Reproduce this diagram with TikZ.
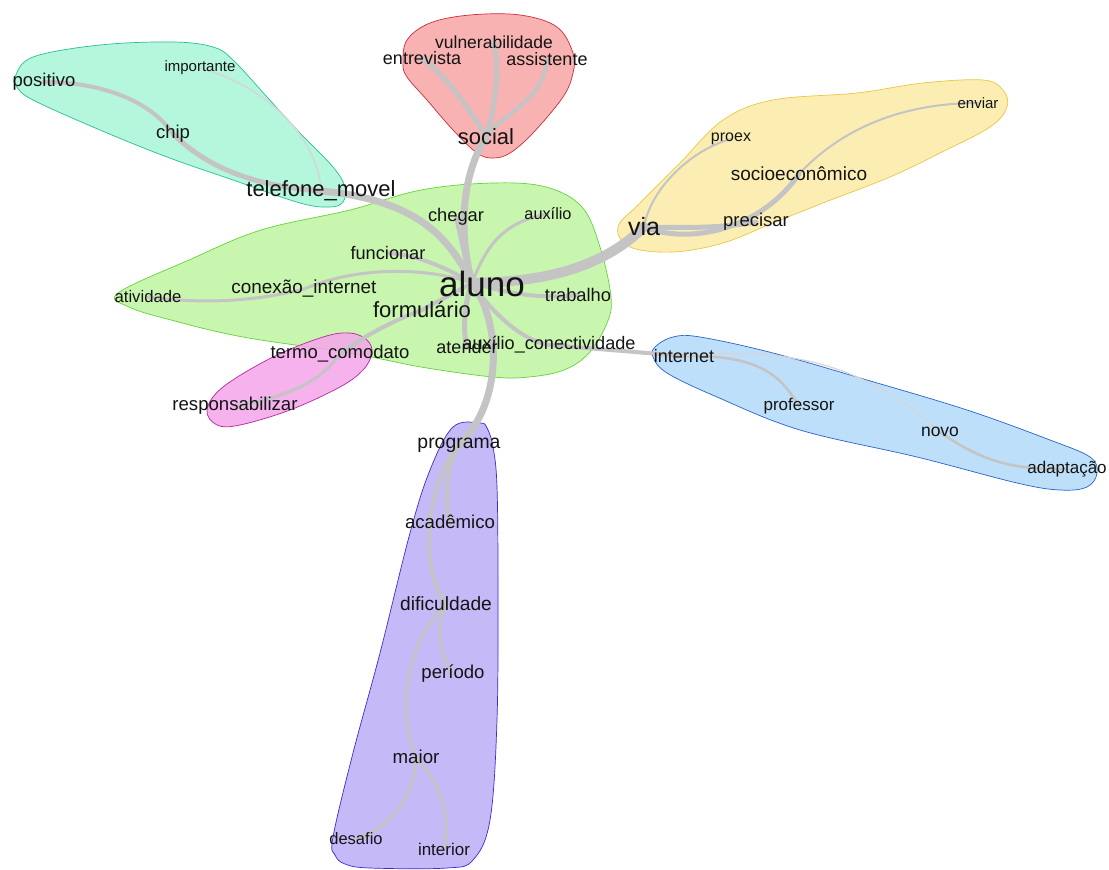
\documentclass[tikz,border=0pt]{standalone}
\usepackage{fontspec}
\setmainfont{Liberation Sans}
\definecolor{linkgray}{RGB}{196,196,196}
\definecolor{linklight}{RGB}{214,214,214}
\definecolor{tealfill}{RGB}{168,246,216}
\definecolor{tealline}{RGB}{40,190,150}
\definecolor{redfill}{RGB}{248,165,165}
\definecolor{redline}{RGB}{205,45,60}
\definecolor{yellowfill}{RGB}{252,236,165}
\definecolor{yellowline}{RGB}{230,200,70}
\definecolor{greenfill}{RGB}{192,245,160}
\definecolor{greenline}{RGB}{100,210,60}
\definecolor{pinkfill}{RGB}{245,165,235}
\definecolor{pinkline}{RGB}{180,40,160}
\definecolor{bluefill}{RGB}{178,218,248}
\definecolor{blueline}{RGB}{40,100,200}
\definecolor{purplefill}{RGB}{188,175,246}
\definecolor{purpleline}{RGB}{70,40,200}
\definecolor{labeltext}{RGB}{20,20,20}
\pgfdeclarelayer{hulls}
\pgfdeclarelayer{links}
\pgfsetlayers{hulls,links,main}
\begin{document}
\begin{tikzpicture}[x=1pt,y=-1pt,
  lbl/.style={inner sep=0pt, text=labeltext, font=\fontsize{#1}{#1}\selectfont},
  lnk/.style={draw=linkgray, line width=#1, line cap=round},
  thin lnk/.style={draw=linklight, line width=#1, line cap=round},
  hull/.style={fill=#1fill, draw=#1line, fill opacity=0.85, line width=0.7pt}]
\begin{pgfonlayer}{hulls}
\fill[white] (0,0) rectangle (1109,870);
% community hulls
\draw[hull=teal] plot[smooth cycle, tension=0.6] coordinates {
  (15,77) (33,57) (100,45) (173,42) (213,47) (233,60) (267,97) (300,133)
  (333,167) (345,187) (343,202) (330,207) (300,203) (233,180) (167,157)
  (100,130) (33,100) (17,87)};
\draw[hull=red] plot[smooth cycle, tension=0.6] coordinates {
  (403,63) (407,40) (430,23) (470,15) (520,15) (557,27) (573,53) (573,73)
  (563,97) (533,133) (510,153) (493,158) (477,153) (453,130) (427,100) (407,77)};
\draw[hull=yellow] plot[smooth cycle, tension=0.6] coordinates {
  (618,227) (640,203) (680,163) (723,120) (773,100) (857,93) (923,83)
  (983,80) (1003,90) (1007,107) (990,127) (940,153) (890,177) (823,203)
  (773,223) (723,243) (673,252) (630,247)};
\draw[hull=green] plot[smooth cycle, tension=0.6] coordinates {
  (118,293) (189,260) (261,230) (350,210) (421,190) (493,183) (546,187)
  (582,207) (600,247) (611,297) (607,323) (589,353) (564,370) (529,377)
  (493,377) (421,367) (350,353) (243,337) (171,320) (129,307)};
\draw[hull=pink] plot[smooth cycle, tension=0.6] coordinates {
  (207,410) (223,387) (273,357) (323,337) (350,333) (367,340) (372,353)
  (363,370) (340,387) (290,410) (240,425) (217,425)};
\draw[hull=blue] plot[smooth cycle, tension=0.6] coordinates {
  (655,347) (673,337) (700,337) (773,353) (867,380) (967,410) (1050,440)
  (1090,457) (1097,473) (1087,487) (1060,490) (1017,483) (917,457)
  (800,430) (717,397) (667,373) (653,357)};
\draw[hull=purple] plot[smooth cycle, tension=0.6] coordinates {
  (480,423) (453,427) (430,470) (410,533) (380,653) (353,753) (333,837)
  (335,855) (345,864) (370,868) (447,868) (473,860) (490,820) (497,720)
  (498,587) (497,487) (493,447) (487,428)};
\end{pgfonlayer}
\useasboundingbox (0,0) rectangle (1109,870);

% word nodes
\coordinate (hub) at (472,283);
\node[lbl=35] (aluno) at (482,284) {aluno};
\node[lbl=18.5] (positivo) at (44,82) {positivo};
\node[lbl=15] (importante) at (200,68) {importante};
\node[lbl=18.5] (chip) at (173,134) {chip};
\node[lbl=22] (telefone) at (321,191) {telefone\_movel};
\node[lbl=18] (entrevista) at (422,58) {entrevista};
\node[lbl=17.5] (vulnerabilidade) at (494,42) {vulnerabilidade};
\node[lbl=18] (assistente) at (547,59) {assistente};
\node[lbl=22] (social) at (486,137) {social};
\node[lbl=16] (proex) at (731,139) {proex};
\node[lbl=15] (enviar) at (978,103) {enviar};
\node[lbl=19] (socioeconomico) at (799,174) {socioeconômico};
\node[lbl=18.5] (precisar) at (756,222) {precisar};
\node[lbl=25] (via) at (644,227) {via};
\node[lbl=18.3] (chegar) at (456,217) {chegar};
\node[lbl=16.3] (auxilio) at (548,214) {auxílio};
\node[lbl=18.2] (funcionar) at (388,253) {funcionar};
\node[lbl=18.9] (conexao) at (304,289) {conexão\_internet};
\node[lbl=16.7] (atividade) at (148,297) {atividade};
\node[lbl=18.3] (trabalho) at (578,295) {trabalho};
\node[lbl=22] (formulario) at (422,310) {formulário};
\node[lbl=18.5] (termo) at (340,354) {termo\_comodato};
\node[lbl=18.6] (responsabilizar) at (235,406) {responsabilizar};
\node[lbl=18] (atender) at (467,347) {atender};
\node[lbl=18.1] (auxconect) at (549,345) {auxílio\_conectividade};
\node[lbl=18] (internet) at (684,356) {internet};
\node[lbl=17] (professor) at (799,406) {professor};
\node[lbl=17.5] (novo) at (940,432) {novo};
\node[lbl=17] (adaptacao) at (1067,469) {adaptação};
\node[lbl=19.4] (programa) at (459,445) {programa};
\node[lbl=18.6] (academico) at (450,522) {acadêmico};
\node[lbl=19.2] (dificuldade) at (446,604) {dificuldade};
\node[lbl=18.6] (periodo) at (453,674) {período};
\node[lbl=18.7] (maior) at (416,757) {maior};
\node[lbl=16.5] (desafio) at (356,839) {desafio};
\node[lbl=17] (interior) at (444,849) {interior};

% links, drawn beneath the words
\begin{pgfonlayer}{links}
\draw[lnk=7] (hub) .. controls (458,230) and (462,175) .. (social.center);
\draw[lnk=7] (hub) .. controls (450,240) and (420,200) .. (telefone.center);
\draw[lnk=5] (chip.center) .. controls (200,160) and (240,185) .. (telefone.center);
\draw[lnk=4] (positivo.center) .. controls (100,82) and (150,100) .. (chip.center);
\draw[thin lnk=1.5] (importante.center) .. controls (280,90) and (320,150) .. (telefone.center);
\draw[lnk=5] (social.center) .. controls (470,110) and (450,80) .. (entrevista.center);
\draw[lnk=5] (social.center) .. controls (495,110) and (500,70) .. (vulnerabilidade.center);
\draw[lnk=4] (social.center) .. controls (500,115) and (545,100) .. (assistente.center);
\draw[lnk=4] (hub) .. controls (465,260) and (460,235) .. (chegar.center);
\draw[lnk=3] (hub) .. controls (485,250) and (500,222) .. (auxilio.center);
\draw[lnk=4] (hub) .. controls (450,270) and (420,255) .. (funcionar.center);
\draw[lnk=3] (hub) .. controls (430,268) and (360,265) .. (conexao.center);
\draw[lnk=3] (conexao.center) .. controls (260,300) and (210,305) .. (atividade.center);
\draw[lnk=4] (hub) .. controls (460,290) and (440,300) .. (formulario.center);
\draw[lnk=4] (formulario.center) .. controls (395,320) and (365,335) .. (termo.center);
\draw[lnk=3] (termo.center) .. controls (325,375) and (300,395) .. (responsabilizar.center);
\draw[lnk=4] (hub) .. controls (500,290) and (530,300) .. (trabalho.center);
\draw[lnk=5] (hub) .. controls (465,300) and (462,330) .. (atender.center);
\draw[lnk=4] (hub) .. controls (490,310) and (520,340) .. (auxconect.center);
\draw[lnk=4] (auxconect.center) -- (internet.center);
\draw[lnk=10] (hub) .. controls (540,282) and (600,270) .. (via.center);
\draw[lnk=5] (via.center) .. controls (690,228) and (720,228) .. (precisar.center);
\draw[lnk=5] (via.center) .. controls (690,245) and (760,230) .. (socioeconomico.center);
\draw[lnk=2] (socioeconomico.center) .. controls (840,130) and (900,103) .. (enviar.center);
\draw[lnk=2] (via.center) .. controls (650,190) and (690,150) .. (proex.center);
\draw[lnk=2.5] (internet.center) .. controls (760,355) and (780,375) .. (professor.center);
\draw[thin lnk=1.2] (internet.center) .. controls (800,345) and (870,370) .. (novo.center);
\draw[lnk=2.5] (novo.center) .. controls (980,460) and (1010,470) .. (adaptacao.center);
\draw[lnk=7] (hub) .. controls (500,320) and (505,400) .. (programa.center);
\draw[lnk=4] (programa.center) .. controls (445,470) and (445,500) .. (academico.center);
\draw[lnk=4] (programa.center) .. controls (430,480) and (415,560) .. (dificuldade.center);
\draw[lnk=3] (dificuldade.center) .. controls (435,630) and (440,655) .. (periodo.center);
\draw[lnk=3] (dificuldade.center) .. controls (400,650) and (400,720) .. (maior.center);
\draw[lnk=3] (maior.center) .. controls (415,800) and (385,830) .. (desafio.center);
\draw[lnk=3] (maior.center) .. controls (445,790) and (450,820) .. (interior.center);
\end{pgfonlayer}
\end{tikzpicture}
\end{document}
